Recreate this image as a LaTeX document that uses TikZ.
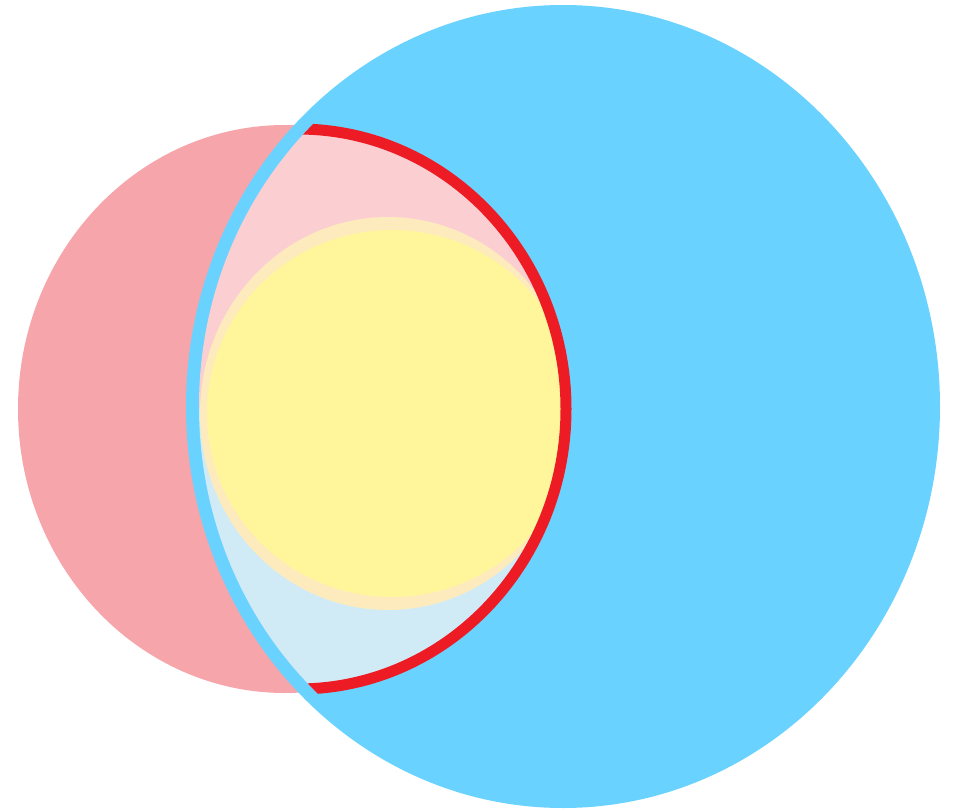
\documentclass[tikz,border=0pt]{standalone}
\begin{document}
\begin{tikzpicture}[x=1pt,y=-1pt]
\definecolor{pinkA}{RGB}{246,166,170}
\definecolor{pinkL}{RGB}{251,206,210}
\definecolor{blueA}{RGB}{106,210,254}
\definecolor{blueL}{RGB}{208,235,245}
\definecolor{redA}{RGB}{237,28,36}
\definecolor{yelA}{RGB}{255,246,155}
\definecolor{creamA}{RGB}{253,235,190}
\useasboundingbox (0,0) rectangle (959,811);
% outer discs
\fill[pinkA] (285,409) ellipse [x radius=267, y radius=284];
\fill[blueA] (563,406.5) ellipse [x radius=377, y radius=401.5];
% lens region
\begin{scope}
  \clip (563,406.5) ellipse [x radius=364, y radius=388.5];
  \clip (298,409) ellipse [x radius=268, y radius=280];
  \fill[pinkL] (0,0) rectangle (959,409);
  \fill[blueL] (0,409) rectangle (959,811);
  \fill[creamA] (388,413.5) ellipse [x radius=188, y radius=196.5];
  \fill[yelA] (392,413.5) ellipse [x radius=185, y radius=183.5];
\end{scope}
% red arc
\begin{scope}
  \clip (563,406.5) ellipse [x radius=364, y radius=388.5];
  \draw[redA, line width=11] (298,409) ellipse [x radius=268, y radius=280];
\end{scope}
\end{tikzpicture}
\end{document}
